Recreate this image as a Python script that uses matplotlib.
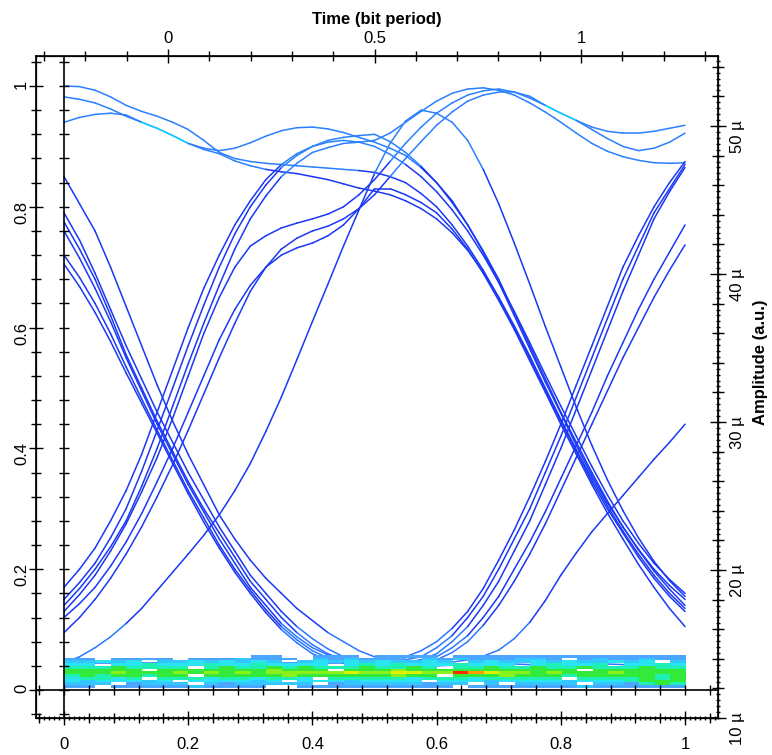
import numpy as np
import matplotlib.pyplot as plt
from matplotlib.colors import ListedColormap
from matplotlib.collections import LineCollection
from matplotlib.ticker import MultipleLocator, FixedLocator, FuncFormatter, NullLocator

plt.rcParams['font.family'] = ['Liberation Sans', 'DejaVu Sans']

# sample times of the traces (bit period)
t = [0, .025, .05, .075, .1, .125, .15, .175, .2, .225,
     .25, .275, .3, .325, .35, .375, .4, .425, .45, .475,
     .5, .525, .55, .575, .6, .625, .65, .675, .7, .725,
     .75, .775, .8, .825, .85, .875, .9, .925, .95, .975, 1.0]

# 1 -> 0 transitions in the first half
fall1 = [.85, .805, .76, .70, .635, .57, .505, .445, .39, .34,
         .29, .25, .215, .185, .16, .135, .115, .095, .08, .065,
         .055, .05, .05, .055, .07, .09, .12, .155, .20, .25,
         .30, .36, .42, .485, .55, .615, .68, .735, .79, .83, .87]
fall2 = [.79, .745, .69, .63, .57, .515, .46, .41, .36, .315,
         .27, .23, .19, .16, .13, .105, .085, .068, .055, .048,
         .045, .044, .045, .05, .06, .08, .105, .14, .18, .23,
         .28, .34, .40, .465, .53, .595, .66, .72, .78, .825, .865]
fall3 = [.775, .73, .68, .62, .555, .50, .445, .395, .345, .30,
         .26, .22, .18, .15, .12, .095, .075, .06, .05, .044,
         .04, .042, .045, .05, .055, .07, .09, .12, .155, .20,
         .245, .295, .35, .405, .46, .52, .575, .63, .68, .725, .77]
fall4 = [.76, .715, .665, .61, .55, .495, .44, .39, .34, .295,
         .25, .21, .17, .14, .11, .088, .07, .058, .05, .046,
         .045, .044, .043, .042, .04, .041, .042, .043, .045, .043,
         .042, .041, .04, .042, .044, .043, .042, .041, .04, .042, .045]
fall5 = [.72, .683, .64, .59, .535, .482, .43, .38, .33, .285,
         .24, .20, .165, .133, .105, .083, .065, .053, .046, .044,
         .045, .044, .045, .047, .05, .062, .08, .107, .14, .18,
         .225, .275, .33, .385, .44, .495, .55, .60, .65, .695, .737]
fall6 = [.705, .668, .625, .577, .525, .475, .425, .375, .325, .278,
         .235, .195, .16, .128, .10, .078, .06, .05, .045, .046,
         .05, .052, .055, .065, .08, .102, .13, .168, .215, .265,
         .32, .378, .44, .505, .57, .635, .70, .752, .80, .84, .875]

# 0 -> 1 transitions in the first half
rise1 = [.17, .20, .235, .28, .33, .39, .46, .53, .60, .665,
         .72, .77, .81, .845, .87, .888, .90, .91, .915, .918,
         .92, .908, .89, .867, .84, .807, .77, .727, .68, .625,
         .57, .515, .46, .41, .36, .313, .27, .233, .20, .173, .15]
rise2 = [.15, .178, .21, .252, .30, .362, .43, .50, .57, .637,
         .70, .755, .80, .836, .865, .885, .90, .907, .91, .907,
         .90, .887, .87, .85, .825, .795, .76, .72, .675, .627,
         .575, .522, .47, .42, .37, .323, .28, .243, .21, .183, .16]
rise3 = [.14, .168, .20, .237, .28, .337, .40, .47, .54, .607,
         .67, .73, .78, .818, .85, .872, .89, .898, .905, .907,
         .91, .922, .94, .958, .975, .988, .995, .997, .993, .985,
         .972, .957, .94, .922, .905, .892, .883, .877, .873, .872, .873]
rise4 = [.13, .158, .19, .23, .275, .328, .385, .45, .52, .59,
         .65, .70, .735, .752, .765, .773, .78, .788, .80, .82,
         .845, .875, .905, .932, .955, .972, .985, .992, .995, .99,
         .98, .968, .955, .943, .932, .925, .922, .922, .925, .93, .935]
rise5 = [.12, .143, .17, .205, .245, .292, .345, .40, .46, .52,
         .58, .63, .67, .70, .72, .732, .74, .752, .77, .797,
         .83, .83, .82, .807, .79, .763, .73, .69, .645, .597,
         .545, .493, .44, .39, .34, .293, .25, .208, .17, .135, .105]
rise6 = [.095, .12, .15, .185, .225, .27, .32, .373, .43, .49,
         .55, .607, .66, .70, .73, .748, .76, .768, .78, .797,
         .82, .85, .88, .908, .935, .957, .975, .985, .99, .99,
         .983, .968, .955, .943, .928, .913, .90, .893, .897, .907, .922]

# "1" level traces
top1 = [1.0, .999, .993, .982, .968, .958, .95, .94, .928, .91,
        .89, .88, .875, .872, .87, .868, .866, .864, .862, .86,
        .857, .85, .84, .822, .80, .77, .735, .695, .65, .60,
        .55, .497, .445, .395, .345, .30, .26, .22, .185, .155, .13]
top2 = [.982, .978, .972, .962, .95, .94, .93, .918, .905, .895,
        .888, .876, .868, .862, .858, .855, .85, .845, .838, .831,
        .826, .82, .81, .797, .78, .757, .728, .692, .65, .603,
        .553, .50, .448, .398, .35, .305, .263, .225, .19, .16, .135]
top3 = [.94, .948, .953, .955, .952, .94, .93, .918, .905, .897,
        .893, .897, .906, .917, .926, .931, .932, .929, .923, .915,
        .907, .897, .885, .865, .84, .81, .77, .725, .675, .62,
        .565, .51, .458, .405, .355, .31, .27, .232, .197, .167, .14]

# slow isolated pulses
arch1 = [.045, .055, .07, .088, .11, .135, .165, .195, .225, .256,
         .29, .33, .375, .428, .485, .547, .61, .672, .735, .795,
         .855, .905, .942, .96, .955, .94, .91, .862, .805, .74,
         .672, .602, .535, .468, .405, .348, .297, .252, .213, .181, .155]
arch2 = [.045, .045, .045, .045, .045, .045, .045, .045, .045, .045,
         .045, .045, .045, .045, .045, .045, .045, .045, .045, .045,
         .045, .045, .045, .045, .045, .046, .05, .056, .066, .085,
         .112, .148, .19, .227, .262, .292, .322, .352, .382, .41, .44]

traces = [top1, top2, top3, rise1, rise2, rise3, rise4, rise5, rise6,
          fall1, fall2, fall3, fall4, fall5, fall6, arch1, arch2]

# noise density of the "0" level, rows top -> bottom, 40 columns over one bit
band_rows = [
    "0000000000001100111011110111111111111111",
    "1101111011121110212111021211122101211211",
    "2232302232323202323232232023223232232302",
    "3303343334334333303434333433303433403343",
    "4445444404544545444544540445445445444544",
    "5555505555555655505556555555555550555555",
    "5556555656565666667667766987665655565555",
    "4545545505555565555556550555655545555545",
    "3443404443443443044444344434444404444545",
    "3233323033332303332333303332333323334555",
    "2220122202122222012222212202022220221454",
    "1101111121111001111111111011111112111111",
]
band_y = (0.004, 0.058)

band_colors = ['#4aa6ff', '#33c6ff', '#2ae4f2', '#1ef0b4', '#33ea3a',
               '#8cf01a', '#e0f000', '#ff9a00', '#ff2a00']

# segments shared by two traces look brighter, as in a density eye plot
seg_count = {}
for y in traces:
    for i in range(len(t) - 1):
        key = (i, round(y[i], 3), round(y[i + 1], 3))
        seg_count[key] = seg_count.get(key, 0) + 1


def seg_colors(y):
    cols = []
    for i in range(len(t) - 1):
        m = (y[i] + y[i + 1]) / 2
        if seg_count[(i, round(y[i], 3), round(y[i + 1], 3))] > 1 and m > 0.5:
            cols.append('#18c8ff')
        elif m > 0.86:
            cols.append('#2a80ff')
        elif m < 0.1:
            cols.append('#2a78ff')
        else:
            cols.append('#1a38f5')
    return cols


fig = plt.figure(figsize=(7.72, 7.55), dpi=100)
rect = [36 / 772, 37 / 755, 682 / 772, 662 / 755]
ax = fig.add_axes(rect)

for y in traces:
    pts = np.column_stack([t, y])
    segs = np.stack([pts[:-1], pts[1:]], axis=1)
    ax.add_collection(LineCollection(segs, colors=seg_colors(y), linewidths=1.1,
                                     capstyle='round', zorder=2))

# density band
grid = np.array([[int(c) for c in row] for row in band_rows], dtype=float)
grid = np.ma.masked_where(grid == 0, grid)
cmap = ListedColormap(band_colors)
cmap.set_bad((1, 1, 1, 0))
ax.imshow(grid, extent=[0, 1, band_y[0], band_y[1]], aspect='auto',
          interpolation='nearest', cmap=cmap, vmin=0.5, vmax=9.5, zorder=3)
ax.set_xlim(-0.0451, 1.0531)
ax.set_ylim(-0.0464, 1.0497)

# inner zero lines with their tick marks
ax.axvline(0, color='k', lw=1.2, zorder=4)
ax.axhline(0, color='k', lw=1.2, zorder=4)
marks = np.arange(-1, 27) * 0.04
ax.plot(marks, np.zeros_like(marks), ls='none', marker='|', ms=7, mew=1, color='k', zorder=4, clip_on=False)
ax.plot(np.zeros_like(marks), marks, ls='none', marker='_', ms=7, mew=1, color='k', zorder=4, clip_on=False)

for s in ax.spines.values():
    s.set_linewidth(1.2)

# left / bottom axes
ax.yaxis.set_major_locator(MultipleLocator(0.2))
ax.yaxis.set_minor_locator(MultipleLocator(0.04))
ax.xaxis.set_major_locator(MultipleLocator(0.2))
ax.xaxis.set_minor_locator(MultipleLocator(0.04))
fmt = FuncFormatter(lambda v, p: ('%g' % round(v, 3)))
ax.xaxis.set_major_formatter(fmt)
ax.yaxis.set_major_formatter(fmt)
ax.tick_params(axis='both', which='major', direction='inout', length=10, width=1, labelsize=12)
ax.tick_params(axis='both', which='minor', direction='inout', length=7, width=1)
ax.tick_params(axis='x', which='major', pad=9)
ax.tick_params(axis='y', which='major', pad=0, labelrotation=90)

# top time axis
axt = ax.twiny()
axt.set_xlim(-0.3196, 1.3317)
axt.xaxis.set_major_locator(FixedLocator([0, 0.5, 1]))
axt.xaxis.set_minor_locator(MultipleLocator(0.1))
axt.xaxis.set_major_formatter(fmt)
axt.tick_params(axis='x', which='major', direction='inout', length=10, width=1, labelsize=12, pad=2)
axt.tick_params(axis='x', which='minor', direction='inout', length=7, width=1)
axt.set_xlabel('Time (bit period)', fontsize=12, fontweight='bold', labelpad=5)

# right amplitude axis
axr = ax.twinx()
axr.set_ylim(10, 54.73)
axr.yaxis.set_major_locator(MultipleLocator(10))
axr.yaxis.set_minor_locator(MultipleLocator(2))
axr.yaxis.set_major_formatter(FuncFormatter(lambda v, p: '%d µ' % round(v)))
axr.tick_params(axis='y', which='major', direction='inout', length=11, width=1, labelsize=12, pad=3, labelrotation=90)
axr.tick_params(axis='y', which='minor', direction='inout', length=8, width=1)
fig.text(760 / 772, 1 - 362 / 755, 'Amplitude (a.u.)', rotation=90, fontsize=12,
         fontweight='bold', ha='center', va='center')

# fine ticks along bottom and right edges
axd = fig.add_axes(rect, frameon=False)
axd.set_xlim(-0.0451, 1.0531)
axd.set_ylim(10, 54.73)
axd.xaxis.set_major_locator(NullLocator())
axd.yaxis.set_major_locator(NullLocator())
axd.xaxis.set_minor_locator(MultipleLocator(0.008))
axd.yaxis.set_minor_locator(MultipleLocator(0.4))
axd.yaxis.tick_right()
axd.xaxis.tick_bottom()
axd.tick_params(which='minor', direction='inout', length=3.5, width=1)
axd.patch.set_visible(False)

fig.savefig('out.png', dpi=100)
